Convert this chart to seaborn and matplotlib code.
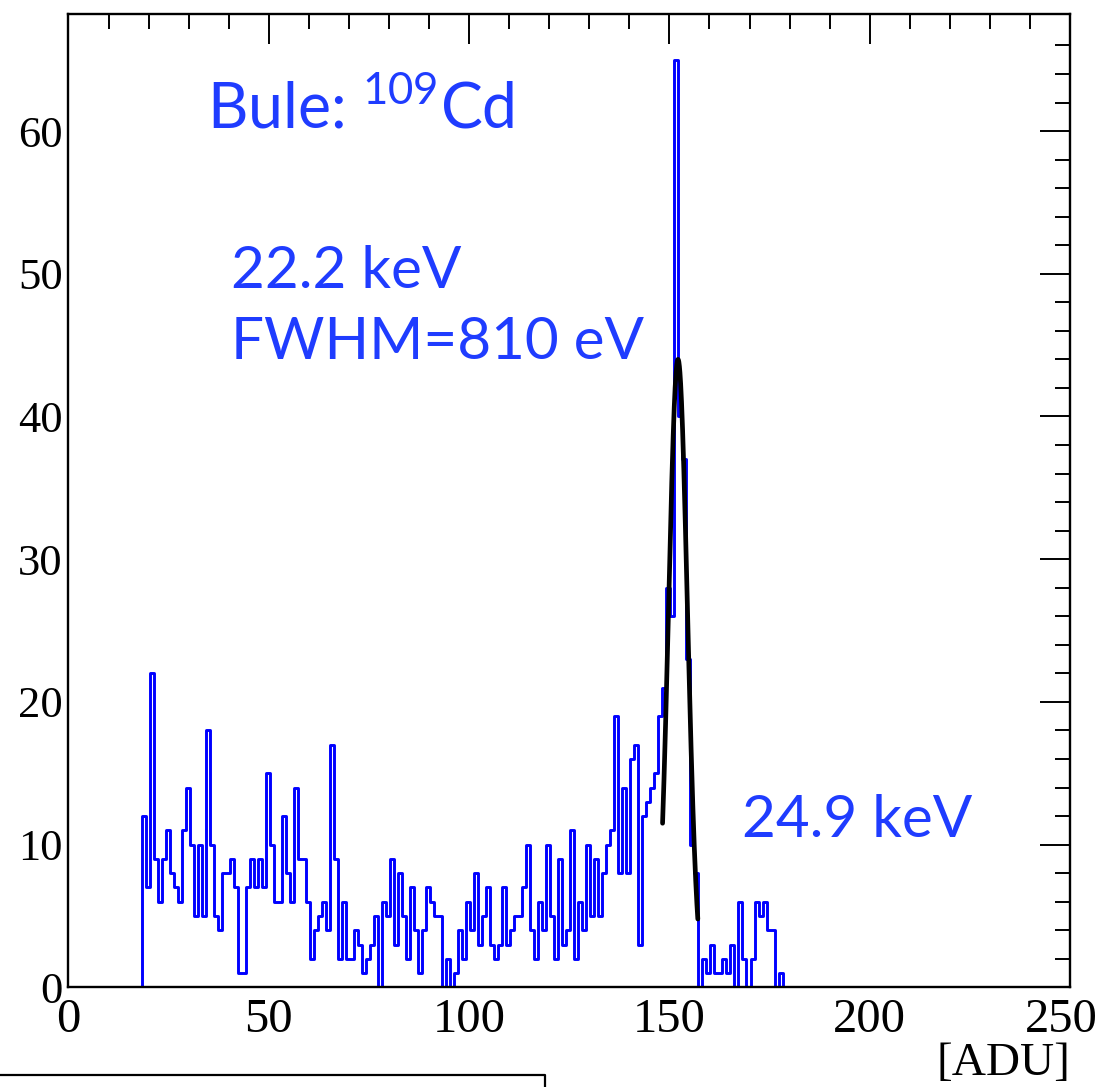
"""109Cd spectrum histogram with gaussian fit of the 22.2 keV line."""
import numpy as np
import pandas as pd
import matplotlib
matplotlib.use("Agg")
import matplotlib.pyplot as plt
import matplotlib.transforms as mtransforms
import seaborn as sns

# ---- Data ----
first_bin = 18          # first non-empty 1-ADU bin
bin_offset = 0.25       # bin edges sit at k + 0.25
counts = [
    12, 7, 22, 9, 6, 9, 11, 8, 7, 6,          # 18-27
    11, 14, 10, 5, 10, 5, 18, 10, 5, 4,       # 28-37
    8, 8, 9, 7, 1, 1, 7, 9, 7, 9,             # 38-47
    7, 15, 10, 6, 6, 12, 8, 6, 14, 9,         # 48-57
    9, 6, 2, 4, 5, 6, 4, 17, 9, 2,            # 58-67
    6, 2, 2, 4, 3, 1, 2, 3, 5, 0,             # 68-77
    6, 5, 9, 3, 8, 5, 2, 7, 4, 1,             # 78-87
    4, 7, 6, 5, 5, 0, 2, 0, 1, 4,             # 88-97
    2, 6, 4, 8, 3, 5, 7, 3, 2, 3,             # 98-107
    7, 3, 4, 5, 5, 7, 10, 4, 2, 6,            # 108-117
    4, 10, 5, 2, 9, 3, 4, 11, 2, 6,           # 118-127
    4, 10, 5, 9, 5, 8, 10, 11, 19, 8,         # 128-137
    14, 8, 16, 17, 3, 12, 13, 14, 15, 19,     # 138-147
    21, 28, 26, 65, 40, 37, 23, 10, 8, 0,     # 148-157
    2, 1, 3, 1, 1, 2, 1, 3, 0, 6,             # 158-167
    2, 0, 2, 6, 5, 6, 4, 4, 0, 1,             # 168-177
]

# gaussian fit of the 22.2 keV peak
fit_amp = 44.0
fit_mean = 152.15
fit_sigma = 2.35
fit_lo, fit_hi = 148.3, 157.1

label_source = "Bule: $^{109}$Cd"
label_line1 = "22.2 keV"
label_line2 = "FWHM=810 eV"
label_line3 = "24.9 keV"

# ---- Build the table ----
n_bins = 252
edges = [k - 1 + bin_offset for k in range(n_bins + 1)]
centers = [e + 0.5 for e in edges[:-1]]
weights = [0.0] * n_bins
start = first_bin + 1
weights[start:start + len(counts)] = counts
hist_df = pd.DataFrame({"adu": centers, "counts": weights})

fit_x = np.linspace(fit_lo, fit_hi, 200)
fit_df = pd.DataFrame({
    "adu": fit_x,
    "fit": fit_amp * np.exp(-0.5 * ((fit_x - fit_mean) / fit_sigma) ** 2),
})

# ---- Plot ----
sns.set_style("white")
plt.rcParams["font.family"] = ["Liberation Serif", "DejaVu Serif"]
plt.rcParams["mathtext.fontset"] = "custom"
plt.rcParams["mathtext.rm"] = "Lato"

BLUE_TXT = "#1f3cff"

fig = plt.figure(figsize=(11.04, 10.87), dpi=100)
ax = fig.add_axes([0.0620, 0.0917, 0.9072, 0.8954])

sns.histplot(data=hist_df, x="adu", weights="counts", bins=edges,
             element="step", fill=False, color="#0000ff", linewidth=2.1, ax=ax)
sns.lineplot(data=fit_df, x="adu", y="fit", color="black", linewidth=3.4, ax=ax)

ax.set_xlim(0, 250)
ax.set_ylim(0, 68.2)
ax.set_xlabel("")
ax.set_ylabel("")

ax.set_xticks(np.arange(0, 251, 50))
ax.set_xticks(np.arange(0, 251, 10), minor=True)
ax.set_yticks(np.arange(0, 61, 10))
ax.set_yticks(np.arange(0, 68, 2), minor=True)
ax.tick_params(which="both", direction="in", top=True, right=True,
               color="black", labelcolor="black")
ax.tick_params(which="major", length=21.5, width=1.4)
ax.tick_params(which="minor", length=10.8, width=1.4)
ax.tick_params(axis="x", labelsize=35, pad=8)
ax.tick_params(axis="y", labelsize=32, pad=4)
for sp in ax.spines.values():
    sp.set_linewidth(1.7)
    sp.set_color("black")

# last x label is pulled in a little so it stays inside the canvas
last = ax.get_xticklabels()[-1]
last.set_transform(last.get_transform() + mtransforms.ScaledTranslation(
    -9 / 100, 0, fig.dpi_scale_trans))

ax.text(34.5, 60.2, label_source, color=BLUE_TXT, fontsize=45,
        family="Lato", va="baseline", ha="left")
ax.text(40.5, 49.0, label_line1, color=BLUE_TXT, fontsize=42,
        family="Lato", va="baseline", ha="left")
ax.text(40.5, 44.0, label_line2, color=BLUE_TXT, fontsize=42,
        family="Lato", va="baseline", ha="left")
ax.text(168.25, 10.5, label_line3, color=BLUE_TXT, fontsize=42,
        family="Lato", va="baseline", ha="left")

fig.text(0.9692, 0.002, "[ADU]", fontsize=34, ha="right", va="bottom",
         color="black")

# edge of a neighbouring legend box, cut by the crop
fig.add_artist(plt.Line2D([0.0, 0.4937, 0.4937], [0.0110, 0.0110, 0.0],
                          transform=fig.transFigure, color="black", lw=1.6))

fig.savefig("out.png", dpi=100)
plt.close(fig)
